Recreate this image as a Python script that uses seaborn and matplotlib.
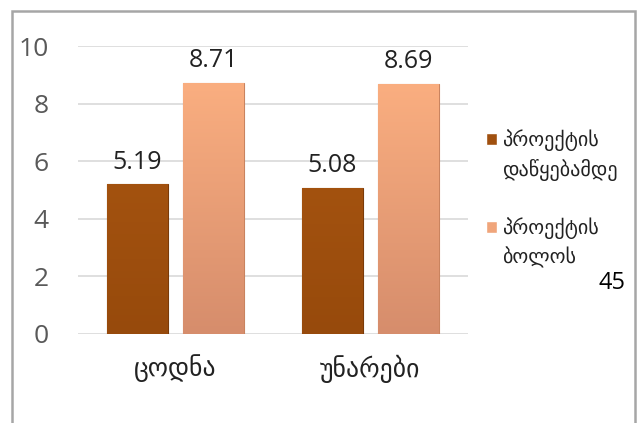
import seaborn as sns
import numpy as np
import pandas as pd
from matplotlib import pyplot as plt
from matplotlib.patches import Rectangle
from matplotlib.legend_handler import HandlerPatch
from matplotlib.colors import LinearSegmentedColormap

# chart data
categories = ["ცოდნა", "უნარები"]
series_names = ["პროექტის\nდაწყებამდე", "პროექტის\nბოლოს"]
before_values = [5.19, 5.08]
after_values = [8.71, 8.69]
y_ticks = [0, 2, 4, 6, 8, 10]
page_number = "45"

df = pd.DataFrame({
    "category": categories * 2,
    "series": [series_names[0]] * 2 + [series_names[1]] * 2,
    "value": before_values + after_values,
})

sns.set_theme(style="white")
plt.rcParams["font.family"] = ["Open Sans", "DejaVu Sans"]

fig = plt.figure(figsize=(6.4, 4.23), dpi=100)
ax = fig.add_axes([0.122, 0.211, 0.609, 0.68])

palette = ["#A0500F", "#F0A57B"]
gradients = [("#A3520F", "#974A0C"), ("#FAAE80", "#D68D6C")]
edges = ["#7A3A08", "#C9835F"]
sns.barplot(data=df, x="category", y="value", hue="series", palette=palette,
            width=0.78, gap=0.2, ax=ax, saturation=1, legend=True)

# vertical shading inside each bar, clipped to the bar itself
grad = np.linspace(0, 1, 256).reshape(-1, 1)
for cont, (top, bottom), ec in zip(ax.containers, gradients, edges):
    cmap = LinearSegmentedColormap.from_list("g", [top, bottom])
    for bar in cont:
        bar.set_edgecolor(ec)
        bar.set_linewidth(0.8)
        x0, y0 = bar.get_x(), bar.get_y()
        w, h = bar.get_width(), bar.get_height()
        im = ax.imshow(grad, cmap=cmap, aspect="auto", origin="upper",
                       extent=[x0, x0 + w, y0, y0 + h], zorder=bar.get_zorder())
        im.set_clip_path(bar)
    ax.bar_label(cont, fmt="%.2f", padding=7, fontsize=18, color="#222222")

ax.set_ylim(0, 10)
ax.set_yticks(y_ticks)
ax.set_xlim(-0.5, 1.5)
ax.grid(axis="y", color="#D9D9D9", linewidth=1.2)
ax.set_axisbelow(True)
for s in ax.spines.values():
    s.set_visible(False)
ax.tick_params(axis="y", labelsize=19, labelcolor="#595959", length=0, pad=21)
ax.tick_params(axis="x", labelsize=18.5, labelcolor="#222222", length=0, pad=15)
ax.set_xlabel("")
ax.set_ylabel("")


def top_square(legend, orig_handle, xdescent, ydescent, width, height, fontsize):
    # square level with the first text line
    return Rectangle((-xdescent, -ydescent + 0.8 * fontsize), width, height)


handles, labels = ax.get_legend_handles_labels()
leg = ax.legend(handles, labels, loc="upper left", bbox_to_anchor=(1.0, 0.775),
                frameon=False, fontsize=14.5, handlelength=0.55, handleheight=0.55,
                handletextpad=0.25, labelspacing=1.8,
                handler_map={h: HandlerPatch(patch_func=top_square) for h in handles})
for t in leg.get_texts():
    t.set_linespacing(1.5)
    t.set_color("#222222")

# outer frame of the slide picture
fig.patches.append(Rectangle((12 / 640, -0.05), 623 / 640, 1.05 - 11 / 423,
                             transform=fig.transFigure, fill=False,
                             edgecolor="#A6A6A6", linewidth=1.8))
fig.text(0.978, 0.33, page_number, ha="right", va="center", fontsize=17, color="black")

plt.savefig("out.png", dpi=100)
